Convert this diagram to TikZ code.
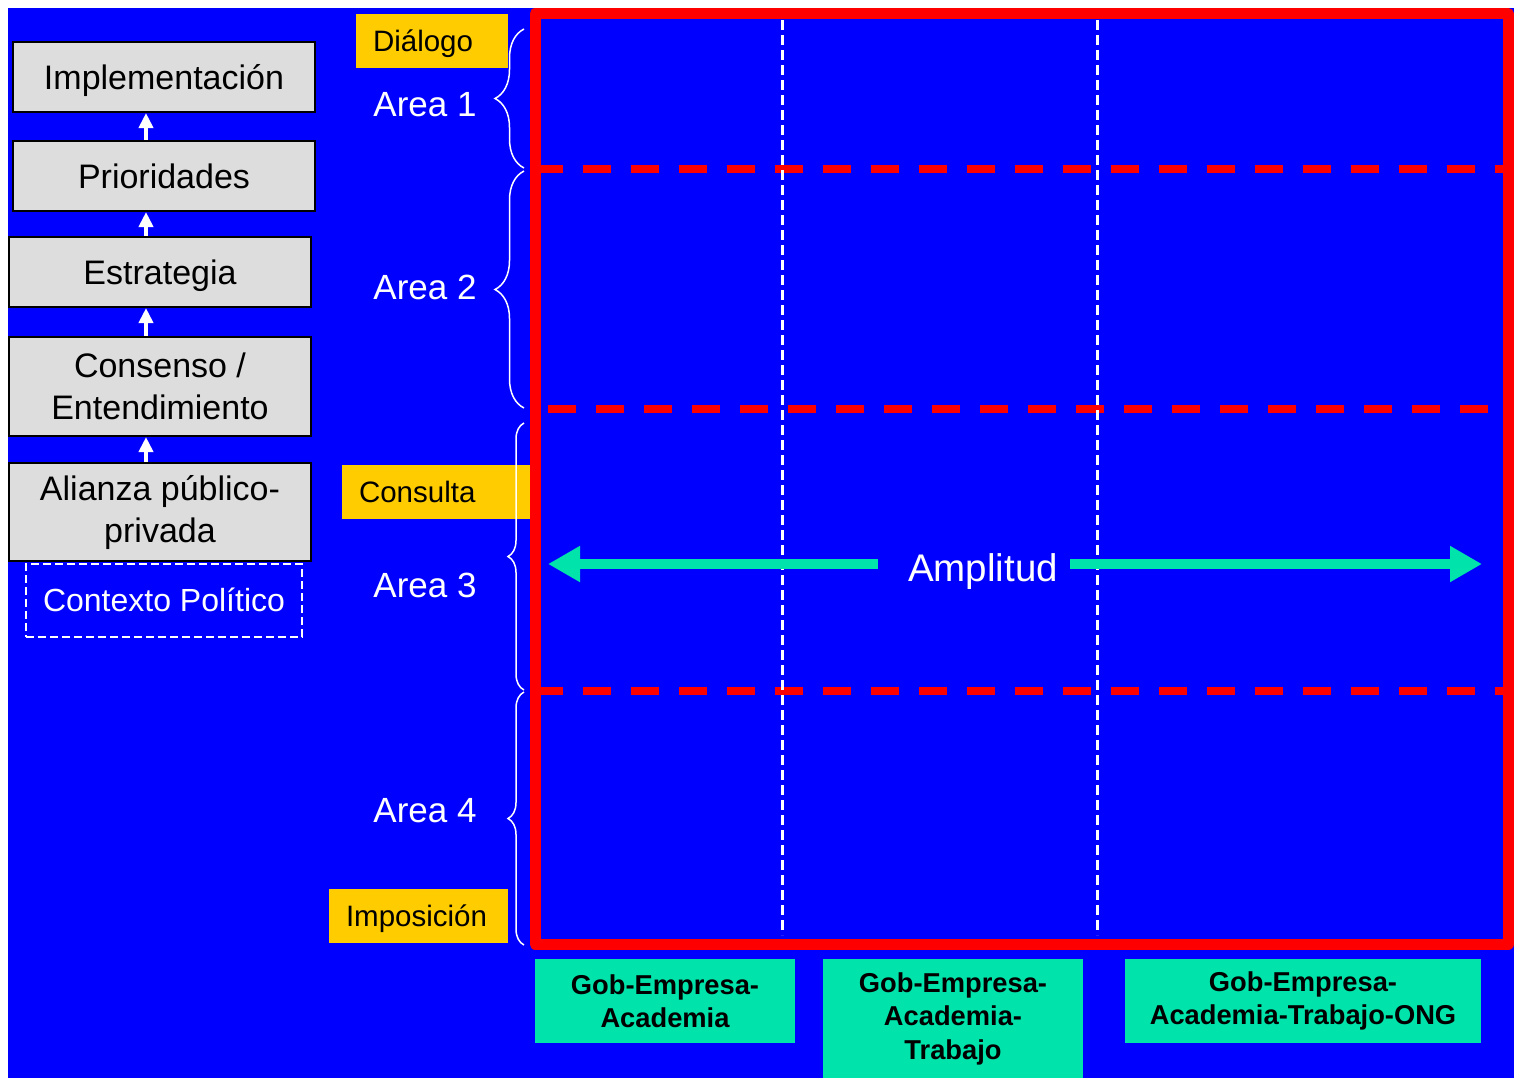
\documentclass[tikz,border=0pt]{standalone}
\usepackage{fontspec}
\setmainfont{Liberation Sans}
\usetikzlibrary{arrows.meta,decorations.pathreplacing}
\definecolor{bgblue}{HTML}{0000FF}
\definecolor{boxgray}{HTML}{DDDDDD}
\definecolor{ylw}{HTML}{FFCC00}
\definecolor{grn}{HTML}{00E3AA}
\definecolor{rd}{HTML}{FF0000}
\begin{document}
\begin{tikzpicture}[x=0.5pt,y=-0.5pt,
  graybox/.style={draw=black,line width=1pt,fill=boxgray,minimum width=151pt,inner sep=0pt,align=center,font=\fontsize{17}{21}\selectfont},
  oneline/.style={text height=12.17pt,text depth=0pt},
  ctxbox/.style={draw=white,line width=1pt,dash pattern=on 4pt off 2pt,minimum width=138pt,minimum height=36.5pt,inner sep=0pt,text=white,font=\fontsize{16}{19}\selectfont,text height=11.46pt,text depth=0pt},
  ybox/.style={fill=ylw,inner xsep=8.5pt,inner ysep=0pt,minimum height=27pt,align=left,font=\fontsize{14.75}{17}\selectfont,text height=10.56pt,text depth=0pt},
  arealabel/.style={text=white,inner sep=0pt,font=\fontsize{17.5}{20}\selectfont,text height=12.53pt,text depth=0pt},
  gbox/.style={fill=grn,inner sep=0pt,minimum width=130pt,minimum height=42pt,align=center,font=\bfseries\fontsize{13.65}{16.75}\selectfont},
  uparrow/.style={white,line width=2.2pt,-{Triangle[width=7pt,length=7.5pt]}},
  bracea/.style={white,line width=0.75pt,decorate,decoration={brace,amplitude=14.5pt}},
  braceb/.style={white,line width=0.75pt,decorate,decoration={brace,amplitude=8pt}},
  reddash/.style={rd,line width=4pt,dash pattern=on 14pt off 10pt},
  whitedash/.style={white,line width=1.5pt,dash pattern=on 5pt off 2.5pt},
  amparrow/.style={grn,line width=5pt,-{Triangle[width=17pt,length=16pt]}}
]
% background
\useasboundingbox (0,0) rectangle (1514,1078);
\fill[white] (0,0) rectangle (1514,1078);
\fill[bgblue] (8,8) rectangle (1514,1078);

% left column
\node[graybox,minimum height=35pt,oneline] (impl) at (164,77) {Implementación};
\node[graybox,minimum height=35pt,oneline] (prio) at (164,176) {Prioridades};
\node[graybox,minimum height=35pt,oneline] (estr) at (160,272) {Estrategia};
\node[graybox,minimum height=49.5pt] (cons) at (160,386.5) {Consenso /\\Entendimiento};
\node[graybox,minimum height=49pt] (alia) at (160,512) {Alianza público-\\privada};
\node[ctxbox] (ctx) at (164,600.5) {Contexto Político};

\coordinate (ax) at (146,0);
\draw[uparrow] (alia.north -| ax) -- (cons.south -| ax);
\draw[uparrow] (cons.north -| ax) -- (estr.south -| ax);
\draw[uparrow] (estr.north -| ax) -- (prio.south -| ax);
\draw[uparrow] (prio.north -| ax) -- (impl.south -| ax);

% yellow labels
\node[ybox,text width=59pt] (dial) at (432,41) {Diálogo};
\node[ybox,text width=79.5pt] (cnsl) at (438.5,491.5) {Consulta};
\node[ybox,text width=72.5pt] (impo) at (418.5,915.5) {Imposición};

% area labels
\node[arealabel] (a1) at (425,103.5) {Area 1};
\node[arealabel] (a2) at (425,287) {Area 2};
\node[arealabel] (a3) at (425,584.5) {Area 3};
\node[arealabel] (a4) at (425,809.5) {Area 4};

% braces
\draw[bracea] (524,168) -- (524,29);
\draw[bracea] (524,408) -- (524,171);
\draw[braceb] (524,690) -- (524,423);
\draw[braceb] (524,945) -- (524,692);

% red dashed horizontal lines
\draw[reddash] (535,169) -- (1505,169);
\draw[reddash] (548,409) -- (1490,409);
\draw[reddash] (535,691) -- (1505,691);

% white dashed verticals
\draw[whitedash] (782,20) -- (782,935);
\draw[whitedash] (1097,20) -- (1097,935);

% red frame
\draw[rd,line width=5.5pt,line join=round] (535,13.5) rectangle (1508,944);

% amplitude
\node[text=white,inner sep=0pt,font=\fontsize{19.25}{22}\selectfont,text height=13.78pt,text depth=0pt] (amp) at (983,568) {Amplitud};
\coordinate (ls) at (878,564);
\coordinate (lt) at (548,564);
\coordinate (rs) at (1070,564);
\coordinate (rt) at (1482,564);
\draw[amparrow] (ls) -- (lt);
\draw[amparrow] (rs) -- (rt);

% green boxes
\node[gbox] (g1) at (665,1001) {Gob-Empresa-\\Academia};
\node[gbox,minimum height=59.5pt] (g2) at (953,1018.5) {Gob-Empresa-\\Academia-\\Trabajo};
\node[gbox,minimum width=178pt] (g3) at (1303,1001) {Gob-Empresa-\\Academia-Trabajo-ONG};
\end{tikzpicture}
\end{document}
